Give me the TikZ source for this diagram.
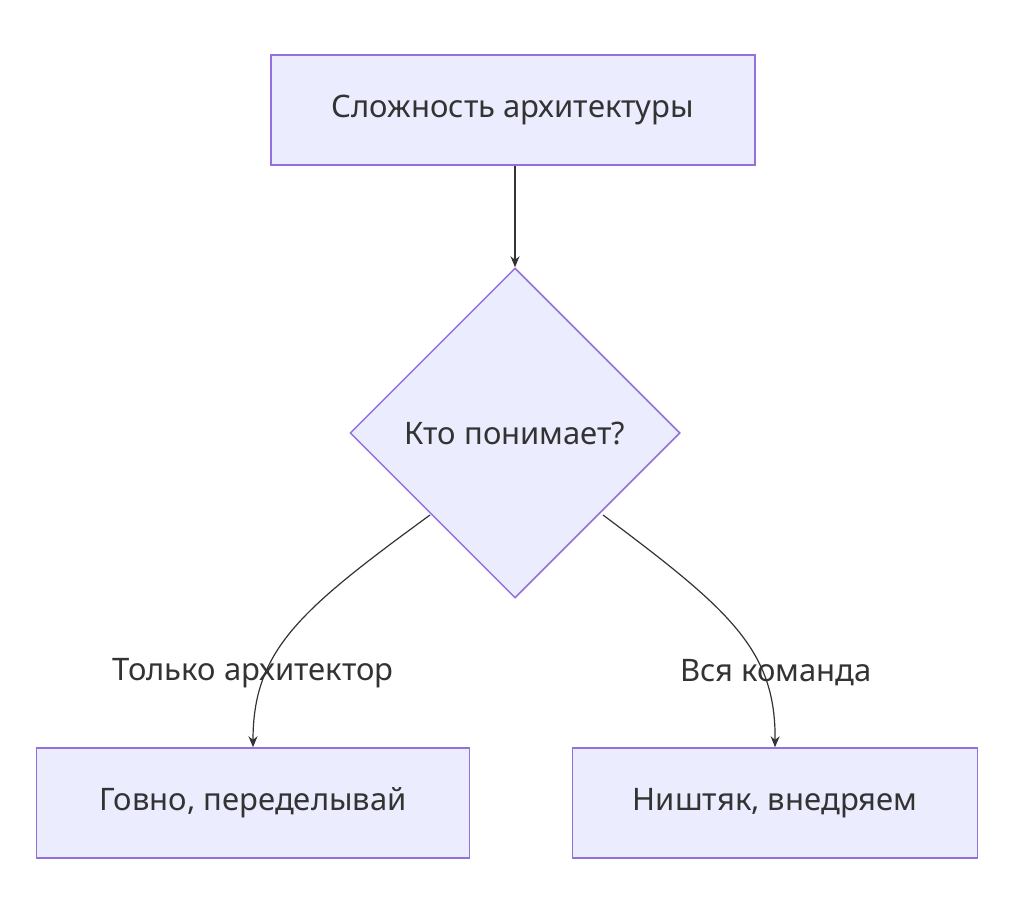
\documentclass[tikz,border=0pt]{standalone}
\usepackage{fontspec}
\setmainfont{Noto Sans}
\usetikzlibrary{shapes.geometric,arrows.meta}
\definecolor{nfill}{HTML}{ECECFF}
\definecolor{nstroke}{HTML}{9370DB}
\definecolor{ink}{HTML}{333333}
\tikzset{
  box/.style={draw=nstroke,fill=nfill,line width=1.5pt,minimum height=110pt,inner sep=0pt,font=\fontsize{31}{36}\selectfont,text=ink},
  dec/.style={diamond,draw=nstroke,fill=nfill,line width=1.5pt,minimum width=330pt,minimum height=330pt,inner sep=0pt,font=\fontsize{31}{36}\selectfont,text=ink},
  lbl/.style={font=\fontsize{31}{36}\selectfont,text=ink,inner sep=2pt},
  conn/.style={draw=ink,line width=1.2pt,-{Stealth[length=11pt,width=9pt]}}
}
\begin{document}
\begin{tikzpicture}[x=1pt,y=-1pt]
\useasboundingbox (0,0) rectangle (1024,901);
\node[box,minimum width=484pt] (a) at (513,110) {Сложность архитектуры};
\node[dec] (b) at (515,433) {Кто понимает?};
\node[box,minimum width=433pt] (c) at (253,803) {Говно, переделывай};
\node[box,minimum width=405pt] (d) at (775,803) {Ништяк, внедряем};
\draw[conn] (a.south -| b.north) -- (b.north);
\coordinate (bl) at (430,515);
\coordinate (br) at (603,515);
\draw[conn] (bl) .. controls (300,610) and (253,650) .. (c.north);
\draw[conn] (br) .. controls (730,610) and (776,650) .. (d.north);
\node[lbl] (l1) at (253,673) {Только архитектор};
\node[lbl] (l2) at (776,673) {Вся команда};
\end{tikzpicture}
\end{document}
